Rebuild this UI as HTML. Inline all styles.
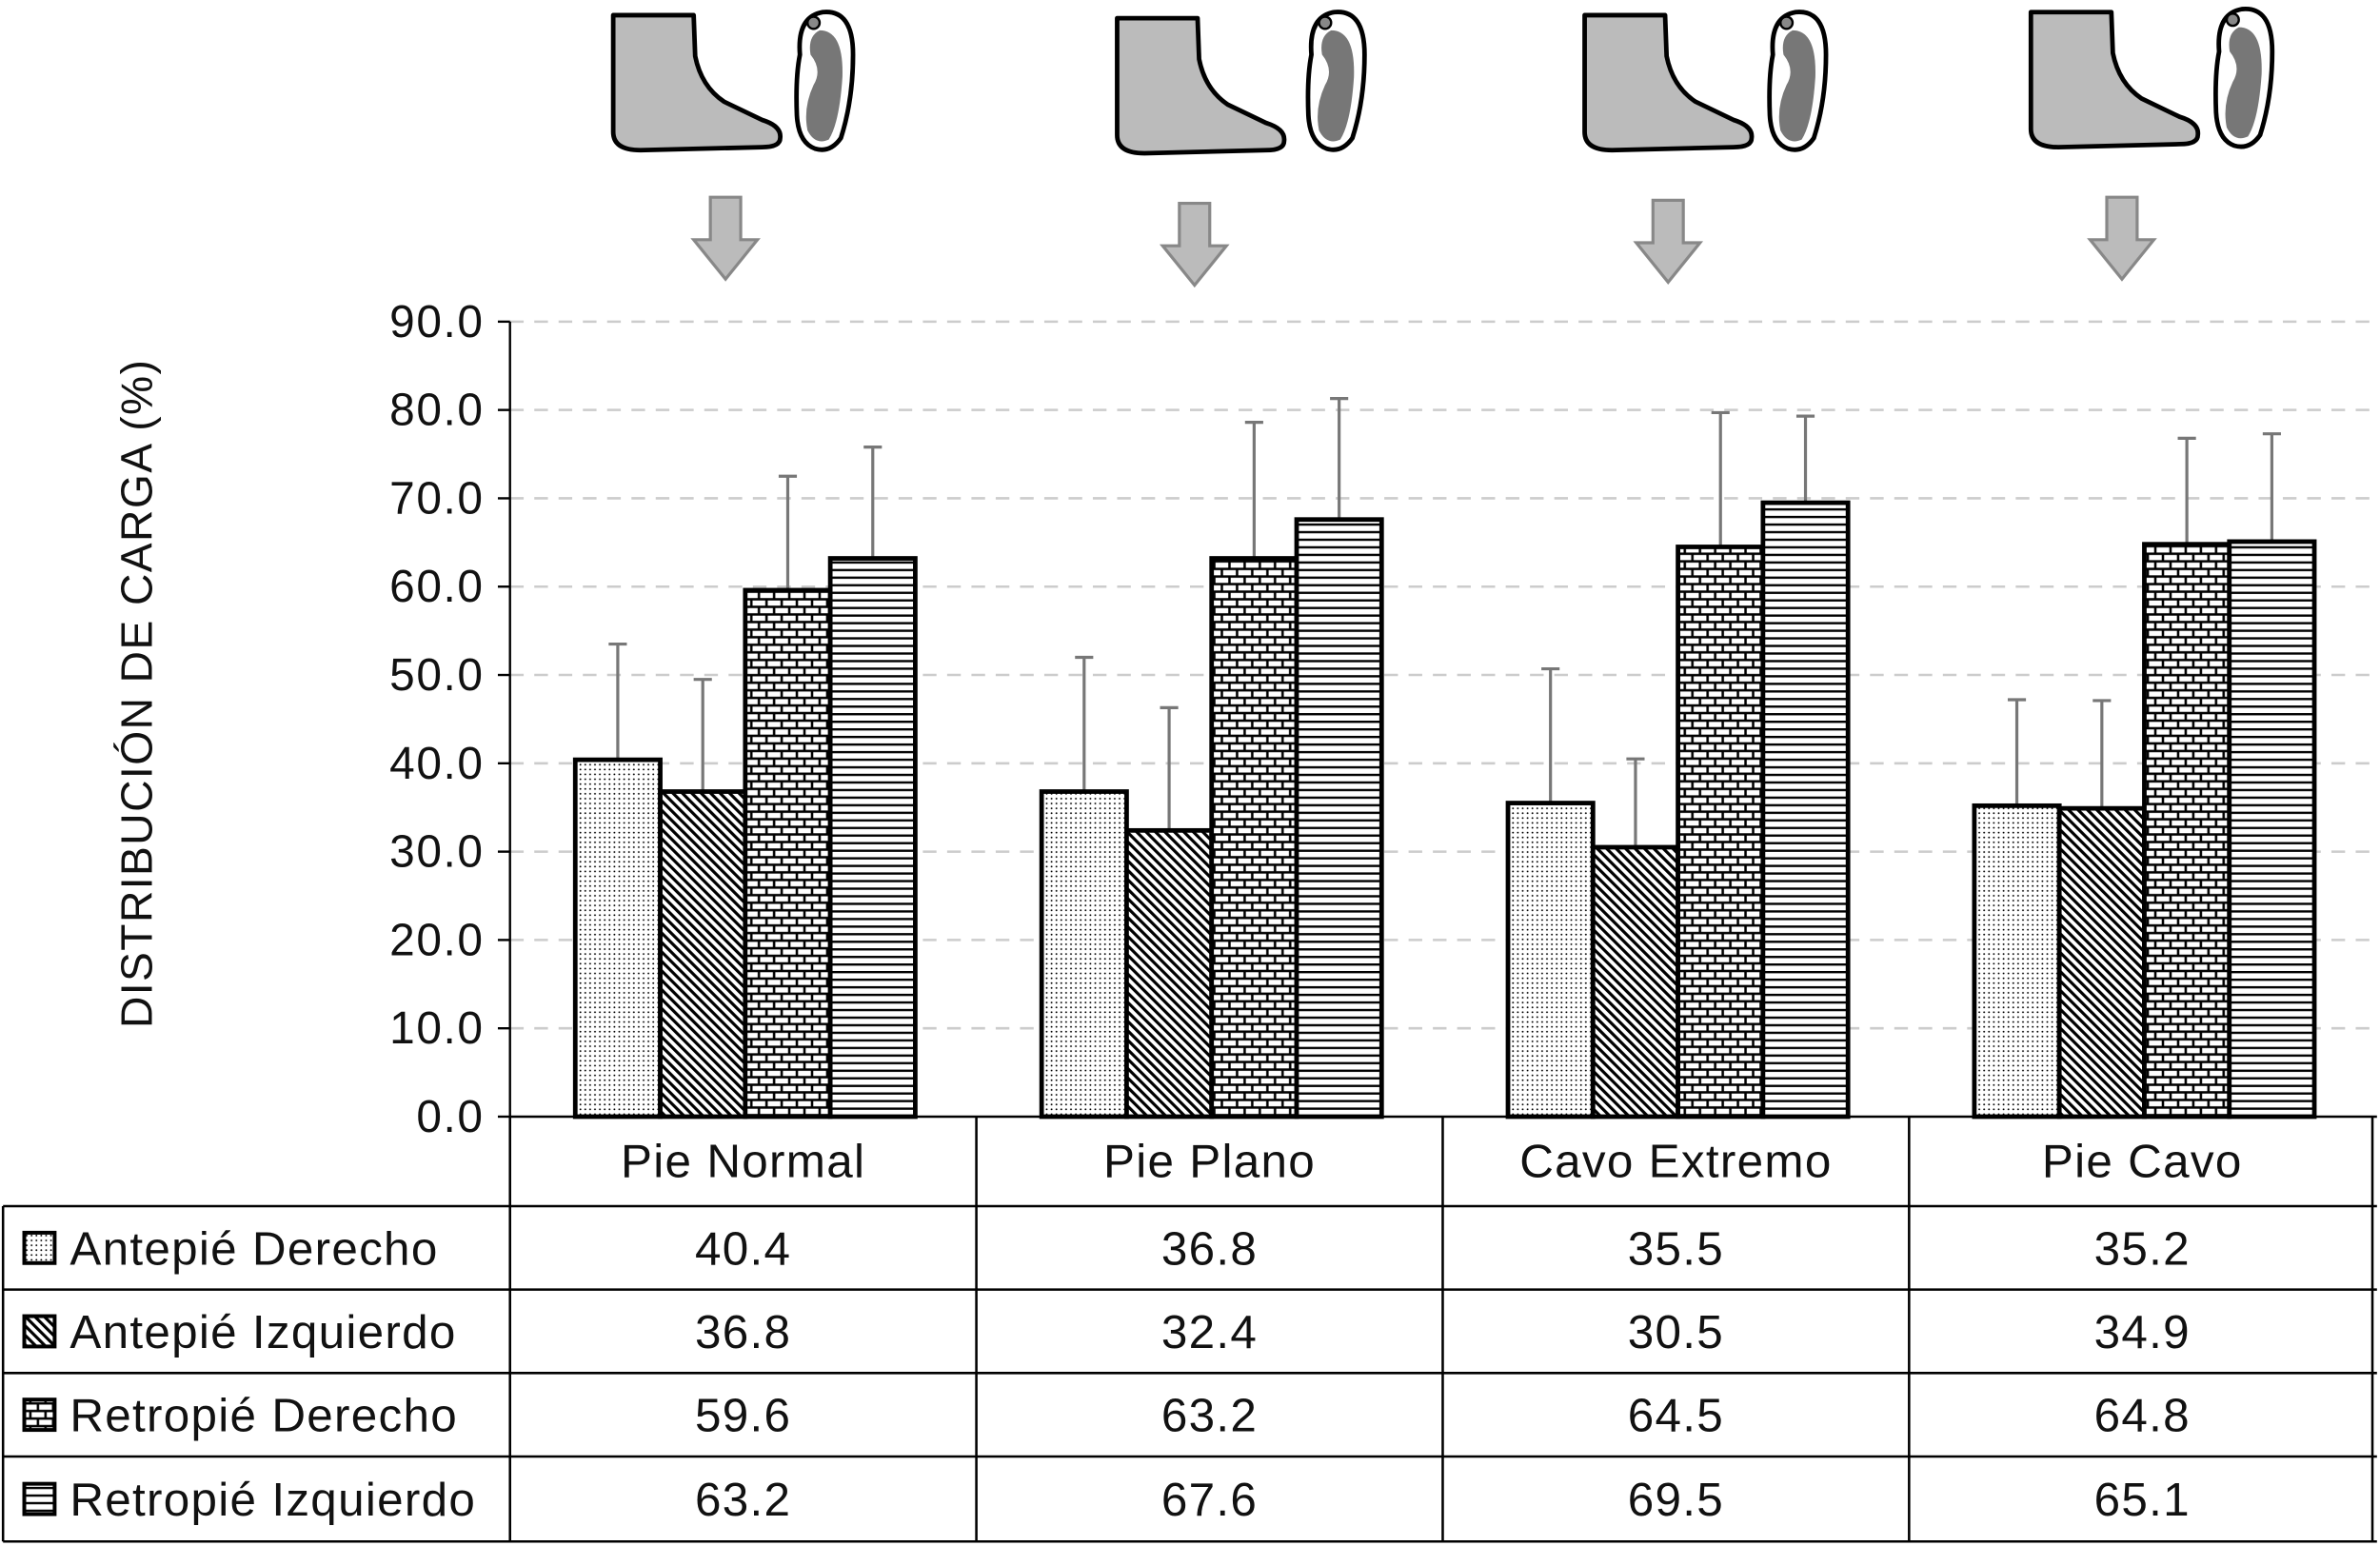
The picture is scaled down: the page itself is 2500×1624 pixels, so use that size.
<!DOCTYPE html>
<html><head><meta charset="utf-8"><style>
html,body{margin:0;padding:0;background:#fff}
svg{display:block}
text{font-family:"Liberation Sans",sans-serif;fill:#111}
</style></head><body>
<svg id="chart" width="2500" height="1624" viewBox="0 0 1568 1019" preserveAspectRatio="none" xmlns="http://www.w3.org/2000/svg">
<defs>
<pattern id="p0" width="3.2" height="3.2" patternUnits="userSpaceOnUse"><rect width="3.2" height="3.2" fill="#fff"/><circle cx="1.6" cy="1.6" r="0.6" fill="#000"/></pattern>
<pattern id="p1" width="4.4" height="4.4" patternUnits="userSpaceOnUse" patternTransform="rotate(-45)"><rect width="4.4" height="4.4" fill="#fff"/><rect width="2" height="4.4" fill="#000"/></pattern>
<pattern id="p2" width="10" height="10" patternUnits="userSpaceOnUse"><rect width="10" height="10" fill="#000"/><rect x="0.8" y="0.8" width="8.4" height="3.4" fill="#fff"/><rect x="-4.2" y="5.8" width="8.4" height="3.4" fill="#fff"/><rect x="5.8" y="5.8" width="8.4" height="3.4" fill="#fff"/></pattern>
<pattern id="p3" width="5" height="5" patternUnits="userSpaceOnUse"><rect width="5" height="5" fill="#fff"/><rect width="5" height="1.5" fill="#000"/></pattern>
<g id="foot"><path d="M2 3 L55 3 L56 30 Q60 50 75 60 L100 72 Q113 76 112 84 Q112 90 100 90 L20 92 Q2 92 2 80 Z" fill="#bbb" stroke="#000" stroke-width="3" stroke-linejoin="round"/></g>
<g id="sole"><path d="M20 2 Q40 0 40 30 Q40 60 32 85 Q25 95 15 92 Q4 88 3 70 Q2 45 5 30 Q3 5 20 2 Z" fill="#fff" stroke="#000" stroke-width="3"/><path d="M18 14 Q34 14 33 45 Q31 75 24 86 Q15 90 10 80 Q7 65 14 50 Q20 40 12 30 Q10 18 18 14 Z" fill="#777"/><circle cx="14" cy="9" r="4" fill="#888" stroke="#000" stroke-width="1.5"/></g>
<g id="arrow"><path d="M-10 0 L10 0 L10 28 L21 28 L0 54 L-21 28 L-10 28 Z" fill="#bbb" stroke="#888" stroke-width="2"/></g>
</defs>
<g id="icons">
<use href="#foot" x="402" y="7"/><use href="#sole" x="522" y="6"/><use href="#arrow" x="478" y="130"/>
<use href="#foot" x="734" y="9"/><use href="#sole" x="859" y="6"/><use href="#arrow" x="787" y="134"/>
<use href="#foot" x="1042" y="7"/><use href="#sole" x="1163" y="6"/><use href="#arrow" x="1099" y="132"/>
<use href="#foot" x="1336" y="5"/><use href="#sole" x="1457" y="4"/><use href="#arrow" x="1398" y="130"/>
</g>
<text transform="translate(100,457) rotate(-90)" text-anchor="middle" font-size="29" letter-spacing="0.9">DISTRIBUCIÓN DE CARGA (%)</text>
<g id="grid"></g><g id="bars"></g><g id="table"></g>
</svg>
<script>
const categories=["Pie Normal","Pie Plano","Cavo Extremo","Pie Cavo"];
const seriesNames=["Antepié Derecho","Antepié Izquierdo","Retropié Derecho","Retropié Izquierdo"];
const antepieDerecho=[40.4,36.8,35.5,35.2];
const antepieIzquierdo=[36.8,32.4,30.5,34.9];
const retropieDerecho=[59.6,63.2,64.5,64.8];
const retropieIzquierdo=[63.2,67.6,69.5,65.1];
const errAntepieDerecho=[13.1,15.2,15.2,12.0];
const errAntepieIzquierdo=[12.7,13.9,10.0,12.2];
const errRetropieDerecho=[12.9,15.4,15.2,12.0];
const errRetropieIzquierdo=[12.6,13.7,9.8,12.2];
const yTicks=[0,10,20,30,40,50,60,70,80,90];
const series=[antepieDerecho,antepieIzquierdo,retropieDerecho,retropieIzquierdo];
const errs=[errAntepieDerecho,errAntepieIzquierdo,errRetropieDerecho,errRetropieIzquierdo];
const NS="http://www.w3.org/2000/svg";
const X0=336,GW=307.25,Y0=736,Y90=212;
const y=v=>Y0-(v/90)*(Y0-Y90);
const gx=i=>X0+i*GW;
function mk(tag,attrs,parent){const e=document.createElementNS(NS,tag);for(const k in attrs)e.setAttribute(k,attrs[k]);parent.appendChild(e);return e;}
const grid=document.getElementById('grid');
yTicks.forEach(t=>{
  if(t>0){const l=mk('line',{x1:X0,x2:1568,y1:y(t),y2:y(t),stroke:'#ccc','stroke-width':1.6,'stroke-dasharray':'9 7'},grid);
  
  }
  const tk=mk('line',{x1:X0-8,x2:X0,y1:y(t),y2:y(t),stroke:'#000','stroke-width':1.5},grid);
  
  
  const tx=mk('text',{x:X0-17,y:y(t)+10,'text-anchor':'end','font-size':30,'letter-spacing':1},grid);
  tx.textContent=t.toFixed(1);
  
  
});
const ax=mk('line',{x1:X0,x2:X0,y1:Y90,y2:Y0,stroke:'#000','stroke-width':1.5},grid);


const bars=document.getElementById('bars');
const BW=56,OFF=43;
categories.forEach((c,i)=>{
  series.forEach((s,j)=>{
    const bx=gx(i)+OFF+j*BW, top=y(s[i]);
    const et=y(s[i]+errs[j][i]);
    const el=mk('line',{x1:bx+BW/2,x2:bx+BW/2,y1:et,y2:top,stroke:'#777','stroke-width':2},bars);
    
    
    const ec=mk('line',{x1:bx+BW/2-6,x2:bx+BW/2+6,y1:et,y2:et,stroke:'#777','stroke-width':2},bars);
    
    
    const r=mk('rect',{x:bx,y:top,width:BW,height:Y0-top,fill:'url(#p'+j+')',stroke:'#000','stroke-width':3},bars);
    
    
  });
});
const tb=document.getElementById('table');
const rowsY=[736,795,850,905,960,1016];
const L=(x1,y1,x2,y2)=>{const l=mk('line',{x1,y1,x2,y2,stroke:'#000','stroke-width':1.6},tb);
  
  };
L(X0,736,1566,736);
for(let k=1;k<rowsY.length;k++)L(2,rowsY[k],1566,rowsY[k]);
L(2,795,2,1016);
for(let i=0;i<=4;i++)L(gx(i)-(i==4?2:0),736,gx(i)-(i==4?2:0),1016);
categories.forEach((c,i)=>{
  const t=mk('text',{x:gx(i)+GW/2,y:776,'text-anchor':'middle','font-size':31,'letter-spacing':0.8},tb);
  t.textContent=c;
  
  
});
seriesNames.forEach((n,j)=>{
  const cy=(rowsY[j+1]+rowsY[j+2])/2;
  const sw=mk('rect',{x:16,y:cy-10,width:20,height:20,fill:'url(#p'+j+')',stroke:'#000','stroke-width':2.5},tb);
  
  
  const t=mk('text',{x:46,y:cy+11,'font-size':31,'letter-spacing':0.8},tb);
  t.textContent=n;
  
  
  categories.forEach((c,i)=>{
    const v=mk('text',{x:gx(i)+GW/2,y:cy+11,'text-anchor':'middle','font-size':31,'letter-spacing':0.8},tb);
    v.textContent=series[j][i].toFixed(1);
    
    
  });
});
</script>
</body></html>
